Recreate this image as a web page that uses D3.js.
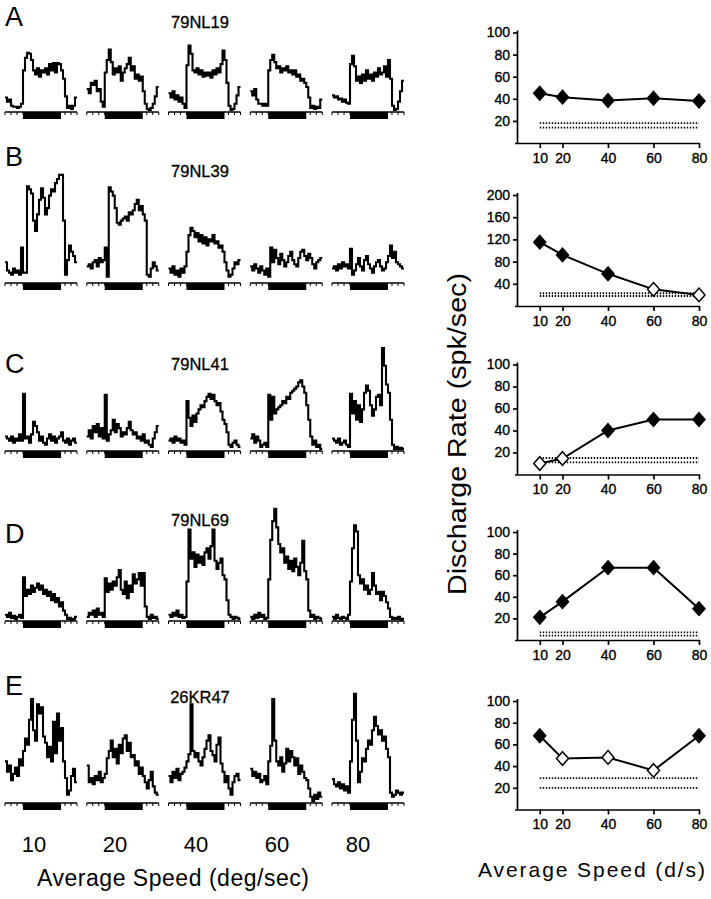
<!DOCTYPE html>
<html><head><meta charset="utf-8">
<script src="https://cdn.jsdelivr.net/npm/d3@7"></script>
<style>
html,body{margin:0;padding:0;background:#fff;}
svg{display:block;font-family:"Liberation Sans",Arial,Helvetica,sans-serif;}
</style></head>
<body>
<svg id="chart" width="711" height="899"></svg>
<script>
// ---------------- DATA ----------------
const speeds = [10, 20, 40, 60, 80];
const panelLetters = ["A", "B", "C", "D", "E"];
const cellIds = ["79NL19", "79NL39", "79NL41", "79NL69", "26KR47"];

// mean discharge rate (spk/sec) vs speed; filled = 1, open = 0
const rateA = [45, 41.5, 38.5, 40.5, 38];
const rateB = [115, 92, 58, 30, 20];
const rateC = [10, 14.5, 40, 50, 50];
const rateD = [21, 35.5, 67, 67, 29];
const rateE = [68, 47, 48, 36, 68];
const filledA = [1, 1, 1, 1, 1];
const filledB = [1, 1, 1, 0, 0];
const filledC = [0, 0, 1, 1, 1];
const filledD = [1, 1, 1, 1, 1];
const filledE = [1, 0, 0, 0, 1];
// spontaneous activity levels (dotted lines)
const spontA = [18, 14];
const spontB = [23, 18];
const spontC = [15, 11];
const spontD = [7, 4];
const spontE = [29, 20];
// y tick labels
const yTicksA = [20, 40, 60, 80, 100];
const yTicksB = [40, 80, 120, 160, 200];
const yTicksC = [20, 40, 60, 80, 100];
const yTicksD = [20, 40, 60, 80, 100];
const yTicksE = [20, 40, 60, 80, 100];
const yMaxA = 100, yMaxB = 200, yMaxC = 100, yMaxD = 100, yMaxE = 100;

// stimulus period in histogram bins
const stimOn = 9, stimOff = 28;

// peristimulus histograms (36 bins each), one per speed
const histA = [
  [14,10,12,6,5,5,4,5,8,40,52,57,56,50,40,36,42,34,40,38,42,36,46,40,47,38,47,46,40,32,15,4,6,3,6,14],
  [22,18,28,26,30,20,22,10,5,38,50,60,48,36,42,38,44,30,38,42,46,52,40,44,32,36,30,34,20,8,3,2,4,8,15,24],
  [18,14,20,12,16,10,14,8,4,45,64,56,40,38,42,36,40,34,38,35,38,33,40,36,42,38,46,59,50,28,6,2,3,8,16,24],
  [20,16,22,12,8,8,6,8,6,40,50,55,48,42,44,38,42,40,44,38,40,36,40,34,36,30,32,28,24,14,4,6,3,5,4,12],
  [16,14,15,12,13,10,12,9,8,46,54,44,30,34,28,36,30,40,32,36,30,38,34,42,36,38,44,34,50,32,6,2,3,10,20,30]
];
const histB = [
  [20,12,10,8,14,10,12,8,34,10,10,93,90,86,60,50,66,80,91,82,66,72,84,90,88,96,100,104,104,60,8,22,36,30,26,20],
  [16,18,14,20,22,16,24,20,22,34,6,92,88,84,72,58,56,60,62,64,60,68,66,70,76,80,70,74,66,60,8,6,14,20,16,12],
  [14,10,16,8,12,6,14,10,16,30,46,53,50,44,48,40,46,38,44,36,42,40,46,38,40,34,36,30,20,12,6,8,14,20,18,22],
  [16,12,18,14,10,16,12,8,14,6,34,20,32,24,18,28,22,16,20,26,30,22,18,16,24,30,32,26,22,28,24,18,14,20,22,24],
  [14,16,12,18,14,20,16,18,14,33,8,12,18,24,16,12,22,26,18,14,10,16,20,22,16,12,14,20,26,36,24,30,20,18,16,14]
];
const histC = [
  [14,12,10,14,8,12,10,16,10,55,12,14,8,16,28,24,18,10,14,8,6,12,16,10,14,8,12,14,18,10,8,12,6,10,12,8],
  [14,20,12,24,18,26,14,22,12,54,10,16,20,30,18,26,22,14,18,16,22,28,20,16,18,12,14,10,16,8,10,6,4,12,18,24],
  [10,12,8,14,10,12,8,10,6,48,32,24,34,28,36,40,44,42,48,52,55,50,54,48,44,46,38,30,26,18,6,4,8,10,6,4],
  [12,16,8,14,10,4,6,8,4,54,30,52,36,40,42,44,48,46,52,50,56,58,60,62,66,68,62,56,44,30,14,6,10,4,6,2],
  [12,10,8,12,6,8,10,6,4,55,36,48,30,44,28,40,56,63,58,44,34,40,52,54,44,99,82,64,56,30,6,2,4,2,3,2]
];
const histD = [
  [6,4,8,3,5,2,4,6,3,42,24,30,26,34,28,32,36,30,34,26,30,24,28,20,26,18,22,14,18,10,6,2,3,1,2,4],
  [4,8,6,10,4,12,6,8,4,41,28,36,30,38,34,42,49,30,26,38,22,34,28,45,36,40,46,34,46,14,4,2,6,3,4,2],
  [6,4,8,5,10,4,6,3,4,38,88,60,66,52,64,56,62,54,66,70,60,72,88,58,50,56,60,44,40,20,6,4,2,4,3,2],
  [4,2,6,3,8,4,6,2,3,40,78,96,108,90,74,66,70,56,62,50,58,48,60,52,44,56,77,48,40,10,4,6,2,4,3,2],
  [4,2,6,3,2,4,3,2,6,38,70,92,86,44,36,40,30,34,26,30,46,34,26,28,20,28,24,18,12,4,2,3,2,4,1,2]
];
const histE = [
  [40,30,36,22,28,34,26,42,36,50,62,56,80,100,70,60,95,86,92,64,58,44,54,40,78,48,86,60,72,40,24,8,12,26,33,20],
  [36,20,24,18,26,22,30,20,24,28,43,50,60,44,52,38,56,48,62,65,50,58,44,46,36,40,28,34,26,20,14,22,30,16,10,8],
  [26,20,30,24,33,22,28,30,34,40,47,95,50,44,48,40,36,44,52,60,65,50,46,40,56,63,38,30,20,26,14,8,20,26,28,22],
  [33,26,30,24,28,20,22,26,18,40,55,100,60,40,36,44,30,38,52,40,50,44,36,43,28,36,30,24,22,14,6,2,8,4,10,6],
  [23,18,16,20,14,18,12,16,10,40,80,105,60,20,30,43,40,52,60,56,70,83,74,66,70,60,64,52,44,10,6,8,12,10,8,10]
];

// ---------------- LAYOUT ----------------
const rows = [
  {letter: panelLetters[0], id: cellIds[0], hist: histA, rate: rateA, filled: filledA, spont: spontA, yTicks: yTicksA, yMax: yMaxA,
   letterY: 26, idY: 28, base: 112, y0: 143, yTop: 32.5},
  {letter: panelLetters[1], id: cellIds[1], hist: histB, rate: rateB, filled: filledB, spont: spontB, yTicks: yTicksB, yMax: yMaxB,
   letterY: 166, idY: 177, base: 283, y0: 306, yTop: 195},
  {letter: panelLetters[2], id: cellIds[2], hist: histC, rate: rateC, filled: filledC, spont: spontC, yTicks: yTicksC, yMax: yMaxC,
   letterY: 373, idY: 370, base: 451, y0: 474.5, yTop: 364.5},
  {letter: panelLetters[3], id: cellIds[3], hist: histD, rate: rateD, filled: filledD, spont: spontD, yTicks: yTicksD, yMax: yMaxD,
   letterY: 543, idY: 526, base: 621, y0: 640, yTop: 532},
  {letter: panelLetters[4], id: cellIds[4], hist: histE, rate: rateE, filled: filledE, spont: spontE, yTicks: yTicksE, yMax: yMaxE,
   letterY: 695, idY: 703, base: 803, y0: 809.5, yTop: 701}
];

const svg = d3.select("#chart");
const nBins = 36;
const colScale = d3.scaleLinear().domain([0, 4]).range([5, 332]);
const histW = 72;
const histH = 104;   // px for 100 units
const xRate = d3.scaleLinear().domain([0, 80]).range([517, 699]);

function diamond(cx, cy, hw, hh) {
  return `M${cx},${cy - hh}L${cx + hw},${cy}L${cx},${cy + hh}L${cx - hw},${cy}Z`;
}

rows.forEach((r, ri) => {
  svg.append("text").attr("x", 5).attr("y", r.letterY)
    .attr("font-size", 27).attr("fill", "#000").text(r.letter);
  svg.append("text").attr("x", 200).attr("y", r.idY).attr("text-anchor", "middle")
    .attr("font-size", 16.5).attr("fill", "#000").attr("stroke", "#000").attr("stroke-width", 0.3).text(r.id);

  const yH = d3.scaleLinear().domain([0, 100]).range([r.base, r.base - histH]);
  r.hist.forEach((h, ci) => {
    const x0 = colScale(ci);
    const xH = d3.scaleLinear().domain([0, nBins]).range([x0, x0 + histW]);
    const g = svg.append("g");
    g.append("line").attr("x1", xH(0)).attr("x2", xH(nBins)).attr("y1", r.base).attr("y2", r.base)
      .attr("stroke", "#000").attr("stroke-width", 1.4);
    d3.range(0, nBins + 1, 3).forEach(b => {
      g.append("line").attr("x1", xH(b)).attr("x2", xH(b)).attr("y1", r.base).attr("y2", r.base + 3)
        .attr("stroke", "#000").attr("stroke-width", 1);
    });
    g.append("rect").attr("x", xH(stimOn)).attr("y", r.base)
      .attr("width", xH(stimOff) - xH(stimOn)).attr("height", 7).attr("fill", "#000");
    const pts = h.map((v, i) => [i, v]).concat([[nBins, h[h.length - 1]]]);
    const line = d3.line().x(d => xH(d[0])).y(d => yH(d[1])).curve(d3.curveStepAfter);
    g.append("path").attr("d", line(pts)).attr("fill", "none")
      .attr("stroke", "#000").attr("stroke-width", 2.1).attr("stroke-linejoin", "miter");
  });

  const y = d3.scaleLinear().domain([0, r.yMax]).range([r.y0, r.yTop]);
  const gx = svg.append("g").attr("transform", `translate(0,${r.y0})`)
    .call(d3.axisBottom(xRate).tickValues(speeds).tickSize(5).tickSizeOuter(0).tickPadding(5));
  const gy = svg.append("g").attr("transform", `translate(${xRate(0)},0)`)
    .call(d3.axisLeft(y).tickValues(r.yTicks).tickSize(4).tickSizeOuter(0).tickPadding(3));
  [gx, gy].forEach(g => {
    g.attr("font-family", "Liberation Sans, Arial, sans-serif").attr("font-size", 14);
    g.selectAll("path,line").attr("stroke", "#000").attr("stroke-width", 1.7);
    g.selectAll("text").attr("fill", "#000").attr("stroke", "#000").attr("stroke-width", 0.35);
  });
  gx.select(".domain").attr("d", `M${xRate(0) - 2},0.5H${xRate(80) + 1}`);
  gy.select(".domain").attr("d", `M0.5,${y(0)}V${y(r.yMax) - 2}`);

  r.spont.forEach(s => {
    svg.append("line").attr("x1", xRate(10)).attr("x2", xRate(80))
      .attr("y1", y(s)).attr("y2", y(s))
      .attr("stroke", "#000").attr("stroke-width", 1.8).attr("stroke-dasharray", "1.4,1.6");
  });
  const ln = d3.line().x((d, i) => xRate(speeds[i])).y(d => y(d));
  svg.append("path").attr("d", ln(r.rate)).attr("fill", "none")
    .attr("stroke", "#000").attr("stroke-width", 2);
  r.rate.forEach((v, i) => {
    svg.append("path").attr("d", diamond(xRate(speeds[i]), y(v), 6, 6.8))
      .attr("fill", r.filled[i] ? "#000" : "#fff")
      .attr("stroke", "#000").attr("stroke-width", 1.5);
  });
});

// bottom-left speed labels
const labX = d3.scaleLinear().domain([0, 4]).range([34, 358]);
speeds.forEach((s, i) => {
  svg.append("text").attr("x", labX(i)).attr("y", 852).attr("text-anchor", "middle")
    .attr("font-size", 22).attr("fill", "#000").text(s);
});
svg.append("text").attr("x", 37).attr("y", 886).attr("font-size", 23)
  .attr("textLength", 272).attr("lengthAdjust", "spacing").attr("fill", "#000")
  .text("Average Speed (deg/sec)");
svg.append("text").attr("x", 478).attr("y", 877).attr("font-size", 21)
  .attr("textLength", 227).attr("lengthAdjust", "spacing").attr("fill", "#000")
  .text("Average Speed (d/s)");
svg.append("text").attr("transform", "translate(466,434) rotate(-90)")
  .attr("text-anchor", "middle").attr("font-size", 26)
  .attr("textLength", 322).attr("lengthAdjust", "spacingAndGlyphs").attr("fill", "#000")
  .text("Discharge Rate (spk/sec)");
</script>
</body></html>
